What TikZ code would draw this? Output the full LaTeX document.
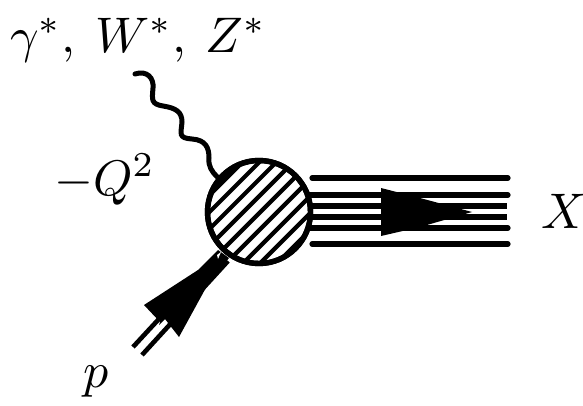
\documentclass[tikz,border=0pt]{standalone}
\usetikzlibrary{calc}
\newcommand{\biglbl}[1]{\scalebox{5}{#1}}
\begin{document}
\begin{tikzpicture}[x=1pt,y=-1pt,
  lbl/.style={inner sep=0pt},
  fline/.style={line width=5.2pt,line cap=round},
  fbutt/.style={line width=5.2pt},
  pline/.style={line width=4.6pt},
  wave/.style={line width=5pt,line cap=round},
  hatchline/.style={line width=4.2pt},
  ring/.style={circle,draw,line width=5.4pt,minimum size=103pt,inner sep=0pt},
  head/.style={fill=black,draw=none}]
\useasboundingbox (0,0) rectangle (583,406);
\coordinate (c) at (259,212);
\coordinate (wstart) at (135,74);
\coordinate (p1) at (133,347);
\coordinate (p2) at (142,355);
\coordinate (p1e) at (219,254);
\coordinate (p2e) at (228,261);
\draw[pline] (p1) -- (p1e);
\draw[pline] (p2) -- (p2e);
\foreach \yy/\n in {178/a,195/b,244/f,228/e}{
  \coordinate (l\n) at (312,\yy);
  \coordinate (r\n) at (508,\yy);
  \draw[fline] (l\n) -- (r\n);}
\foreach \yy/\n in {206/c,217/d}{
  \coordinate (l\n) at (305,\yy);
  \coordinate (r\n) at (507,\yy);
  \draw[fbutt] (l\n) -- (r\n);}
\draw[fline] (305,195) -- (312,195) (305,228) -- (312,228);
\node[ring,fill=white] (blob) at (c) {};
\begin{scope}
  \clip (c) circle (52);
  \foreach \d in {-59,-47,...,61}{
    \draw[hatchline] ($(c)+(-45:-80)+(45:\d)$) -- ($(c)+(-45:80)+(45:\d)$);}
\end{scope}
\node[ring] (blobring) at (c) {};
\draw[wave] (wstart) .. controls (147,70) and (154,78) .. (153,88)
  .. controls (152,100) and (151,104) .. (163,106)
  .. controls (176,108) and (182,112) .. (182,122)
  .. controls (181,134) and (178,138) .. (192,139)
  .. controls (206,140) and (209,148) .. (209,158)
  .. controls (208,166) and (212,172) .. (blob.140);
\fill[head] (144,305) -- (198,270) -- (218,250) -- (229,258) -- (208,284) -- (179,337) -- (165,319) -- (159,325) -- (160,322) -- cycle;
\fill[head] (381,188) -- (420,198) -- (472,212) -- (420,227) -- (381,236) -- cycle;
\fill[white] (217,255) -- (221,252) -- (218,259) -- cycle;
\node[lbl,anchor=base west] (t1) at (10,53) {\biglbl{$\gamma^*,\:W^*,\:Z^*$}};
\node[lbl,anchor=base west] (t2) at (54,195) {\biglbl{$-Q^2$}};
\node[lbl,anchor=base west] (t3) at (83,387) {\biglbl{$p$}};
\node[lbl,anchor=base west] (t4) at (541,228) {\biglbl{$X$}};
\end{tikzpicture}
\end{document}
